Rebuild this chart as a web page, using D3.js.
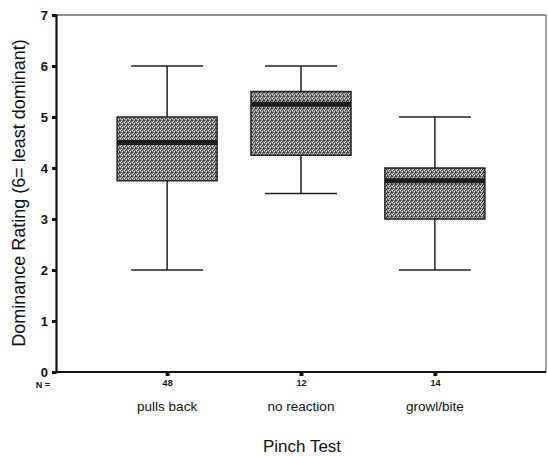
<!DOCTYPE html>
<html><head><meta charset="utf-8">
<script src="https://cdn.jsdelivr.net/npm/d3@7"></script>
<style>body{margin:0;background:#fff;} text{font-family:"Liberation Sans",Arial,sans-serif;}</style>
</head><body><svg id="c" width="548" height="456"></svg>
<script>
const categories = ["pulls back","no reaction","growl/bite"];
const counts = [48,12,14];
const whiskerLow = [2,3.5,2];
const q1 = [3.75,4.25,3];
const median = [4.5,5.25,3.75];
const q3 = [5,5.5,4];
const whiskerHigh = [6,6,5];
const yTicks = [0,1,2,3,4,5,6,7];

const svg = d3.select("#c");
const L=56, R=546, T=15, B=372;
const x = d3.scalePoint().domain(categories).range([L,R]).padding(0.83);
const y = d3.scaleLinear().domain([0,7]).range([B,T]);

// dither pattern
const defs = svg.append("defs");
const pat = defs.append("pattern").attr("id","dith").attr("width",4).attr("height",4).attr("patternUnits","userSpaceOnUse");
pat.append("rect").attr("width",4).attr("height",4).attr("fill","#8e8e8e");
[[0,0],[2,1],[1,2],[3,3],[3,0]].forEach(([a,b])=>pat.append("rect").attr("x",a).attr("y",b).attr("width",1).attr("height",1).attr("fill","#3a3a3a"));
[[1,1],[2,3],[0,2]].forEach(([a,b])=>pat.append("rect").attr("x",a).attr("y",b).attr("width",1).attr("height",1).attr("fill","#d8d8d8"));

// frame
svg.append("line").attr("x1",L).attr("x2",R).attr("y1",T).attr("y2",T).attr("stroke","#222").attr("stroke-width",1.2);
svg.append("line").attr("x1",R).attr("x2",R).attr("y1",T).attr("y2",B).attr("stroke","#444").attr("stroke-width",1);

const boxW=100, capW=72;
const g = svg.append("g");
categories.forEach((c,i)=>{
  const cx=x(c);
  g.append("line").attr("x1",cx).attr("x2",cx).attr("y1",y(whiskerLow[i])).attr("y2",y(whiskerHigh[i])).attr("stroke","#222").attr("stroke-width",1.5);
  [whiskerLow[i],whiskerHigh[i]].forEach(v=>g.append("line").attr("x1",cx-capW/2).attr("x2",cx+capW/2).attr("y1",y(v)).attr("y2",y(v)).attr("stroke","#222").attr("stroke-width",1.5));
  g.append("rect").attr("x",cx-boxW/2).attr("y",y(q3[i])).attr("width",boxW).attr("height",y(q1[i])-y(q3[i])).attr("fill","url(#dith)").attr("stroke","#222").attr("stroke-width",1.5);
  g.append("line").attr("x1",cx-boxW/2).attr("x2",cx+boxW/2).attr("y1",y(median[i])).attr("y2",y(median[i])).attr("stroke","#1a1a1a").attr("stroke-width",5);
});

// y axis
const ya = svg.append("g").attr("transform",`translate(${L},0)`)
  .call(d3.axisLeft(y).tickValues(yTicks).tickSize(4).tickFormat(d3.format("d")));
ya.select(".domain").attr("stroke","#111").attr("stroke-width",2.2);
ya.selectAll(".tick line").attr("stroke","#111").attr("stroke-width",3);
ya.selectAll(".tick text").attr("font-size",13).attr("font-weight","bold").attr("fill","#111").attr("x",-8);

// x axis
const xa = svg.append("g").attr("transform",`translate(0,${B})`)
  .call(d3.axisBottom(x).tickSize(4).tickFormat((d,i)=>counts[i]));
xa.select(".domain").attr("stroke","#111").attr("stroke-width",1.8).attr("d",`M${L},0H${R}`);
xa.selectAll(".tick line").attr("stroke","#111").attr("stroke-width",4);
xa.selectAll(".tick text").attr("font-size",9).attr("font-weight","bold").attr("fill","#111").attr("y",8);

svg.append("text").attr("x",50).attr("y",388).attr("text-anchor","end").attr("font-size",9).attr("font-weight","bold").attr("fill","#111").text("N =");

svg.selectAll(".cat").data(categories).enter().append("text").attr("class","cat")
  .attr("x",d=>x(d)).attr("y",411).attr("text-anchor","middle").attr("font-size",13.5).attr("fill","#111").text(d=>d);

svg.append("text").attr("x",302).attr("y",452).attr("text-anchor","middle").attr("font-size",17).attr("fill","#111").text("Pinch Test");
svg.append("text").attr("transform","translate(25,193) rotate(-90)").attr("text-anchor","middle").attr("font-size",18).attr("fill","#111").text("Dominance Rating (6= least dominant)");
</script></body></html>
